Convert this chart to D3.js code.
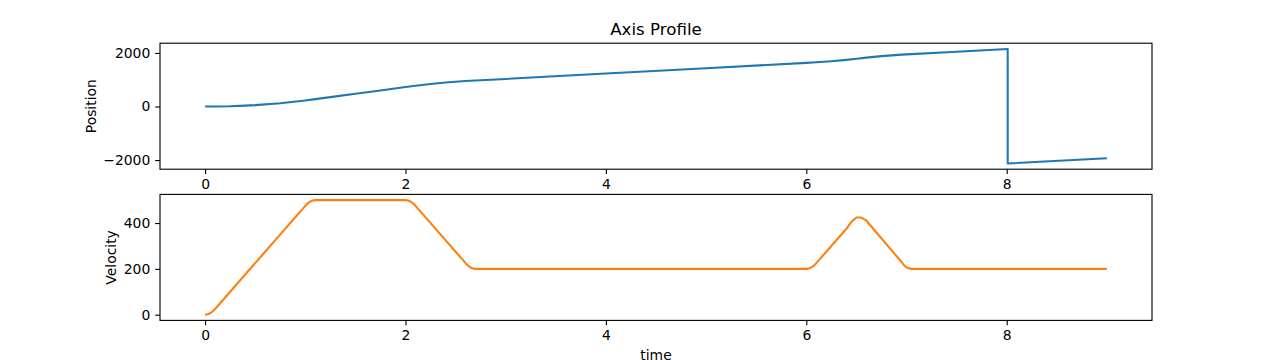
<!DOCTYPE html>
<html><head><meta charset="utf-8">
<script src="https://cdn.jsdelivr.net/npm/d3@7"></script>
<style>
body{margin:0;background:#fff}
svg{display:block}
text{font-family:"DejaVu Sans",sans-serif;fill:#000}
</style>
</head><body>
<svg id="c" width="1280" height="360"></svg>
<script>
// ---- data ----
const posTime  = [0, 0.1, 0.25, 0.4, 0.5, 0.75, 1.0, 1.1, 1.25, 1.5, 1.75, 2.0, 2.1, 2.25, 2.4, 2.5, 2.6, 2.7, 2.75, 3, 4, 5, 6, 6.1, 6.25, 6.4, 6.5, 6.6, 6.75, 6.95, 7.05, 7.5, 8.01, 8.01, 9.0];
const posValue = [0, 1, 10, 33, 51, 123, 226, 275, 350, 475, 600, 725, 774, 840, 894, 924, 949, 970, 980, 1030, 1230, 1430, 1630, 1651, 1690, 1741, 1782, 1824, 1880, 1936, 1957, 2047, 2150, -2128, -1932];
const velTime  = [0, 0.025, 0.05, 0.075, 0.1, 1.0, 1.025, 1.05, 1.075, 1.1, 2.0, 2.025, 2.05, 2.075, 2.1, 2.6, 2.625, 2.65, 2.675, 2.7, 6.0, 6.025, 6.05, 6.075, 6.1, 6.4, 6.45, 6.5, 6.55, 6.6, 6.95, 6.975, 7.0, 7.025, 7.05, 9.0];
const velValue = [0, 1.5, 6, 14, 25, 475, 486, 494, 498.5, 500, 500, 498.5, 494, 486, 475, 225, 214, 206, 201.5, 200, 200, 201.5, 206, 214, 225, 375, 405, 424, 424, 410, 230, 216, 207, 202, 200, 200];
const xTicks   = [0, 2, 4, 6, 8];
const posTicks = [-2000, 0, 2000];
const velTicks = [0, 200, 400];
const title = "Axis Profile";
const posLabel = "Position", velLabel = "Velocity", xLabel = "time";

const svg = d3.select("#c");
const L = 160, R = 1152;
const panels = [
  {top: 43.2, bottom: 169.2, t: posTime, v: posValue, ticks: posTicks, color: "#1f77b4", label: posLabel, labelX: 96},
  {top: 194.4, bottom: 320.4, t: velTime, v: velValue, ticks: velTicks, color: "#ff7f0e", label: velLabel, labelX: 116}
];
const tickLen = 4.86, tickPad = 4.86, fs = 13.9;

const allT = posTime.concat(velTime);
const tExt = d3.extent(allT);
const tPad = (tExt[1] - tExt[0]) * 0.05;
const x = d3.scaleLinear().domain([tExt[0] - tPad, tExt[1] + tPad]).range([L, R]);

panels.forEach(p => {
  const ext = d3.extent(p.v);
  const pad = (ext[1] - ext[0]) * 0.05;
  const y = d3.scaleLinear().domain([ext[0] - pad, ext[1] + pad]).range([p.bottom, p.top]);
  const data = p.t.map((t, i) => [t, p.v[i]]);

  const clipId = "clip" + Math.round(p.top);
  svg.append("clipPath").attr("id", clipId).append("rect")
    .attr("x", L).attr("y", p.top).attr("width", R - L).attr("height", p.bottom - p.top);

  svg.append("path").datum(data)
    .attr("clip-path", `url(#${clipId})`)
    .attr("fill", "none").attr("stroke", p.color).attr("stroke-width", 2.08)
    .attr("stroke-linejoin", "round").attr("stroke-linecap", "butt")
    .attr("d", d3.line().x(d => x(d[0])).y(d => y(d[1])));

  const gx = svg.append("g").attr("transform", `translate(0,${p.bottom})`)
    .call(d3.axisBottom(x).tickValues(xTicks).tickFormat(d3.format("d")).tickSize(tickLen).tickPadding(tickPad));
  const gy = svg.append("g").attr("transform", `translate(${L},0)`)
    .call(d3.axisLeft(y).tickValues(p.ticks).tickFormat(d3.format("d")).tickSize(tickLen).tickPadding(tickPad));
  [gx, gy].forEach(g => {
    g.select(".domain").remove();
    g.selectAll(".tick line").attr("stroke", "#000").attr("stroke-width", 1.11);
    g.selectAll(".tick text").attr("font-size", fs).attr("font-family", "DejaVu Sans").attr("fill", "#000");
  });

  svg.append("rect").attr("x", L).attr("y", p.top).attr("width", R - L).attr("height", p.bottom - p.top)
    .attr("fill", "none").attr("stroke", "#000").attr("stroke-width", 1.11);

  svg.append("text")
    .attr("transform", `translate(${p.labelX},${(p.top + p.bottom) / 2}) rotate(-90)`)
    .attr("text-anchor", "middle").attr("font-size", fs).text(p.label);
});

svg.append("text").attr("x", (L + R) / 2).attr("y", 35).attr("text-anchor", "middle")
  .attr("font-size", 16.67).text(title);
svg.append("text").attr("x", (L + R) / 2).attr("y", 360).attr("text-anchor", "middle")
  .attr("font-size", fs).text(xLabel);
</script>
</body></html>
